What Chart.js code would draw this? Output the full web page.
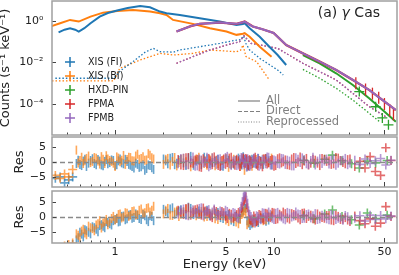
<!DOCTYPE html>
<html>
<head>
<meta charset="utf-8">
<script src="https://cdn.jsdelivr.net/npm/chart.js@4.4.1/dist/chart.umd.min.js"></script>
<style>
  body { margin: 0; background: #fff; }
  #wrap { position: relative; width: 399px; height: 275px; }
  #wrap canvas { position: absolute; left: 0; }
</style>
</head>
<body>
<div id="wrap">
  <canvas id="spec" width="399" height="136" style="top:0"></canvas>
  <canvas id="resAll" width="399" height="52" style="top:136px"></canvas>
  <canvas id="resDirect" width="399" height="85" style="top:190px"></canvas>
</div>
<script>
// ---- top panel: counts spectra (keV, counts s^-1 keV^-1) ----
const xisFiE = [0.44, 0.48, 0.52, 0.56, 0.59, 0.64, 0.70, 0.80, 0.90, 1.03, 1.2, 1.44, 1.66, 1.92, 2.11, 2.56, 3.42, 4.57, 5.83, 6.4, 6.57, 7.06, 8.17, 9.4, 10.6, 12.0];
const xisFiCounts = [0.282, 0.380, 0.447, 0.380, 0.309, 0.447, 0.776, 1.62, 2.40, 3.16, 4.17, 5.25, 4.57, 2.82, 2.34, 1.95, 1.35, 0.933, 0.646, 0.708, 0.776, 0.447, 0.174, 0.0575, 0.0229, 0.00759];
const xisBiE = [0.39, 0.45, 0.52, 0.59, 0.70, 0.84, 1.03, 1.3, 1.66, 1.92, 2.11, 2.32, 3.1, 3.96, 5.04, 5.83, 6.4, 6.57, 7.06, 8.17, 9.7];
const xisBiCounts = [0.537, 0.776, 1.12, 0.933, 1.62, 2.51, 3.02, 3.39, 2.82, 2.34, 1.95, 1.12, 0.724, 0.447, 0.309, 0.214, 0.240, 0.257, 0.174, 0.0575, 0.0191];
const fpmE = [2.44, 3.0, 3.42, 4.57, 5.83, 6.4, 6.57, 7.4, 8.5, 10.0, 12.0, 15.3, 19.5, 24.8, 31.6, 40.2, 48.7, 59];
const fpmCounts = [0.309, 0.562, 0.724, 0.832, 0.724, 0.871, 0.933, 0.537, 0.398, 0.263, 0.0692, 0.0275, 0.0110, 0.00437, 0.00145, 4.68e-4, 1.55e-4, 5.13e-5];
const pinE = [15.3, 19.5, 24.8, 31.6, 40.2, 48.7, 59];
const pinCounts = [0.0229, 0.00912, 0.00302, 8.32e-4, 1.86e-4, 5.13e-5, 1.41e-5];

// reprocessed components (dotted)
const xisFiReproE = [0.42, 0.98, 1.08, 1.30, 1.55, 1.74, 1.92, 2.33, 2.56, 3.42, 4.57, 5.83, 6.2, 6.45, 6.7, 7.06, 8.17, 10.6, 11.5];
const xisFiRepro = [0.00174, 0.00174, 0.00398, 0.0112, 0.0316, 0.0479, 0.0331, 0.0316, 0.0398, 0.0575, 0.0832, 0.120, 0.126, 0.191, 0.0794, 0.0398, 0.0158, 0.00437, 0.00251];
const xisBiReproE = [0.40, 0.98, 1.07, 1.44, 1.92, 2.33, 3.1, 3.96, 5.83, 6.2, 6.4, 6.7, 7.8, 9.4];
const xisBiRepro = [0.00129, 0.00129, 0.00525, 0.0132, 0.0275, 0.0229, 0.0275, 0.0398, 0.0331, 0.0398, 0.0692, 0.0191, 0.0110, 0.00145];
const fpmReproE = [2.44, 3.1, 3.96, 5.04, 6.1, 6.5, 7.2, 9.4, 10.6, 15.3, 24.8, 40.2, 51];
const fpmRepro = [0.00912, 0.0191, 0.0398, 0.0692, 0.100, 0.191, 0.0832, 0.0575, 0.0479, 0.00912, 0.00145, 7.41e-5, 2.45e-5];
const pinReproE = [15.3, 19.5, 24.8, 31.6, 40.2, 46.6];
const pinRepro = [0.00468, 0.00174, 5.75e-4, 1.55e-4, 3.55e-5, 1.41e-5];

// high-energy bins drawn with error bars
const fpmaBinE = [33, 38, 42, 46, 50, 54, 57];
const fpmaBin = [0.001, 5.01e-4, 3.16e-4, 2.0e-4, 1.0e-4, 5.01e-5, 3.16e-5];
const pinBinE = [34.7, 44, 48.5, 53];
const pinBin = [3.98e-4, 7.41e-5, 2.14e-5, 1.0e-5];

// ---- residuals (sigma) ----
const xisResE = [0.42,0.45,0.48,0.51,0.54,0.57,0.60,0.63,0.66,0.70,0.74,0.78,0.82,0.86,0.90,0.95,1.00,1.05,1.10,1.16,1.22,1.28,1.35,1.42,1.50,1.58,1.66,1.75,2.02,2.15,2.30,2.45,2.60,2.80,3.00,3.25,3.50,3.80,4.10,4.45,4.80,5.20,5.60,6.00,6.30,6.55,6.80,7.10,7.50,8.00,8.60,9.30];
const xisResE2 = [0.585,0.615,0.645,0.68,0.72,0.76,0.80,0.84,0.88,0.925,0.975,1.025,1.075,1.13,1.19,1.25,1.315,1.385,1.46,1.54,1.62,1.705,2.085,2.225,2.375,2.525,2.70,2.90,3.125,3.375,3.65,3.95,4.275,4.625,5.00,5.40,5.80,6.15,6.425,6.675,6.95,7.30,7.75,8.30,8.95,9.7];
const nuResE = [2.5,2.7,2.9,3.1,3.3,3.5,3.7,3.9,4.1,4.35,4.6,4.85,5.1,5.4,5.7,6.0,6.25,6.45,6.6,6.75,6.95,7.2,7.5,7.8,8.1,8.5,8.9,9.3,9.8,10.3,10.9,11.5,12.2,13.0,13.8,14.7,15.6,16.6,17.7,18.9,20.2,21.6,23.1,24.7,26.4,28.3,30.3,32.5,35.0,37.7,40.6,43.8,47.3,51.0,55.0];
const nuResE2 = [2.6,2.8,3.0,3.2,3.4,3.6,3.8,4.0,4.22,4.47,4.72,4.97,5.25,5.55,5.85,6.12,6.35,6.52,6.68,6.85,7.07,7.35,7.65,7.95,8.3,8.7,9.1,9.55,10.05,10.6,11.2,11.85,12.6,13.4,14.25,15.15,16.1,17.15,18.3,19.55,20.9,22.35,23.9,25.55,27.35,29.3];
const pinResE = [15.5, 18, 21, 23.5, 27, 31, 34.7, 39, 44, 52];

// middle panel
const fiResAll = [-5.5,-5.0,-7.0,-6.0,-5.0,-0.5,-0.8,0.3,-1.5,0.5,-0.5,0.8,-1.0,0.2,-0.6,0.7,-1.2,0.4,-0.3,0.9,-0.8,-1.5,-0.4,-1.8,-0.9,-2.2,-1.2,-2.5,1.0,-0.6,1.5,-0.4,0.8,-1.2,1.9,0.3,-0.9,1.1,-0.2,0.9,-1.4,0.6,-0.7,1.3,-1.0,0.8,-1.6,0.5,-0.3,1.2,-0.8,0.4];
const fiResAll2 = [0.6,-1.2,0.9,-0.4,1.1,-0.9,0.3,-1.3,0.8,-0.2,0.5,-0.9,1.0,-0.6,0.2,-1.1,-2.0,-0.8,-1.6,-2.8,-1.0,-1.9,0.4,1.3,-0.9,0.6,-0.3,1.4,-1.1,0.7,1.6,-0.5,0.3,-1.2,1.0,-0.8,0.4,-0.3,1.8,0.2,-1.2,0.9,-0.6,0.3,1.1,-1.0];
const biResAll = [-4.5,-5.5,-4.0,-5.0,-2.5,4.0,0.5,-0.5,1.2,-0.2,1.5,0.3,1.8,-0.5,1.0,0.2,-1.5,1.3,0.6,-0.8,1.6,0.4,2.0,0.9,1.8,0.7,2.3,1.0,-0.8,1.2,0.2,-1.3,0.9,0.1,-1.6,1.0,0.5,-1.1,1.4,-0.6,0.7,-1.8,0.9,-0.4,1.1,-2.8,0.3,-1.0,0.6,-0.5,1.0,-0.2];
const biResAll2 = [-0.3,1.6,0.4,2.0,0.2,1.3,-0.7,0.9,2.1,0.5,-0.4,1.7,0.1,2.2,0.8,1.5,0.3,2.6,1.2,0.6,2.8,1.4,0.9,-1.0,1.5,-0.2,1.2,-0.9,0.4,1.6,-0.5,0.8,-1.3,0.2,1.2,-0.7,0.5,-1.5,1.0,-0.3,0.6,-1.4,0.8,-0.6,0.2,1.3];
const fpmaResAll = [0.8,-1.2,1.5,-0.4,0.9,-1.8,0.3,1.2,-0.9,0.6,-1.5,1.0,-0.2,1.6,-1.1,0.4,-0.7,1.3,-0.5,0.9,-1.4,0.2,1.1,-0.8,0.5,-1.6,1.2,-0.3,0.8,-1.2,1.4,0.1,-0.9,1.0,-0.5,1.7,0.3,-1.0,0.9,-0.4,1.2,0.2,-0.8,1.5,0.5,-0.6,1.0,-1.5,0.2,-2.0,1.8,-3.2,-4.5,4.8,0.5];
const fpmaResAll2 = [-1.0,1.4,-0.3,0.7,-1.6,1.1,-0.6,0.4,1.7,-1.2,0.5,-0.8,1.3,-0.4,0.9,-1.5,0.6,-0.2,1.2,-1.0,0.8,-0.5,1.6,-1.3,0.2,1.0,-0.7,0.5,-1.4,1.1,-0.3,0.7,-1.1,1.5,0.0,-0.9,1.2,-0.4,0.6,-1.2,0.9,0.4,-0.6,1.3,-0.2,0.8];
const fpmbResAll = [-0.6,1.3,-0.9,1.7,-1.3,0.7,-0.2,-1.6,1.4,-0.8,1.1,-0.5,1.9,-1.2,0.6,-1.0,1.5,-0.3,1.0,-1.7,0.5,-0.9,1.3,0.2,-1.4,0.9,-0.6,1.6,-1.0,0.4,-0.7,1.1,0.6,-1.3,1.4,-0.2,0.8,-0.9,1.6,0.3,-0.5,1.0,0.7,-1.1,0.4,1.2,-0.3,0.6,-0.8,1.0,-0.5,0.4,1.2,-1.0,0.6];
const fpmbResAll2 = [1.2,-0.8,0.5,-1.4,1.0,-0.3,1.6,-1.1,-0.2,0.9,-1.3,1.5,-0.6,0.3,-1.2,0.8,1.4,-0.9,0.2,1.1,-1.5,0.6,-0.4,1.3,-0.9,0.4,1.7,-1.0,0.7,-0.5,1.2,-0.8,0.3,-1.3,0.9,1.4,-0.6,0.5,-1.0,1.1,0.3,-0.7,1.0,-0.4,0.6,-0.9];
const pinResAll = [0.6,-0.4,0.9,2.3,0.4,-0.6,-2.0,0.3,-0.3,0.5];

// bottom panel
const fiResDirect = [-12,-11,-12,-10,-9,-7.5,-5.0,-6.5,-4.5,-5.5,-3.5,-4.8,-2.5,-3.5,-1.8,-2.6,-0.8,-1.6,0.2,-0.9,0.6,-0.4,1.0,-0.5,0.8,-0.9,0.4,-1.2,2.5,1.2,3.0,1.6,2.4,0.8,2.8,1.5,1.0,2.2,0.6,1.5,-0.5,0.8,-1.5,-0.6,1.5,3.0,-1.2,-2.8,-0.9,-1.8,-0.2,-1.0];
const fiResDirect2 = [-6.8,-5.6,-4.2,-5.0,-3.2,-4.0,-2.8,-3.0,-1.5,-2.2,-1.2,-0.4,-1.4,0.3,-0.6,0.8,-0.2,0.5,-0.8,0.4,-1.5,0.2,1.8,2.6,0.9,2.0,1.4,3.2,0.8,2.0,1.7,0.4,1.2,-0.2,0.5,-1.0,0.3,-0.5,2.0,2.8,-2.0,-2.2,-1.5,-0.6,-1.4,0.2];
const biResDirect = [-11,-10,-9.5,-9,-8.5,-5.5,-6.8,-4.0,-5.8,-3.5,-4.5,-2.2,-3.6,-1.5,-2.5,-0.5,-1.0,0.8,-0.3,1.4,0.2,1.8,0.6,2.2,1.2,2.8,1.6,3.5,1.0,2.8,0.5,2.0,0.9,2.5,1.2,0.4,1.8,0.2,1.0,-0.8,0.4,-1.5,-0.6,-2.2,0.8,2.0,-2.5,-1.2,-2.0,-0.4,-1.2,0.3];
const biResDirect2 = [-6.0,-4.6,-5.2,-3.0,-3.8,-2.6,-1.2,-2.0,-0.8,-1.4,0.2,-0.5,1.0,0.0,1.2,0.6,2.0,0.8,2.6,1.4,3.0,2.2,2.2,0.6,1.6,0.2,1.8,0.6,2.0,0.9,0.0,1.2,-0.6,0.6,-1.0,-0.4,-1.6,-0.8,1.2,1.5,-1.8,-0.8,-1.6,-0.2,-1.0,0.5];
const fpmaResDirect = [2.2,0.8,3.0,1.5,2.6,0.6,2.0,1.2,-0.2,1.8,0.5,1.4,-0.5,0.9,0.2,1.5,2.8,5.0,6.0,4.0,1.0,-1.2,0.3,-1.5,0.8,-0.6,1.2,0.0,1.5,-0.8,0.9,1.6,-0.3,1.1,0.4,-0.9,1.3,0.2,-0.6,1.0,-0.2,0.5,-1.0,0.6,-0.8,-0.2,-1.5,0.3,-1.2,-2.2,-0.6,-3.0,-2.0,3.4,0.2];
const fpmaResDirect2 = [1.4,2.8,0.6,2.4,1.0,2.9,1.6,0.3,2.2,0.9,1.8,0.2,1.2,-0.3,0.8,1.0,3.2,5.5,6.5,3.0,-0.8,-1.8,-0.4,-1.2,0.6,-0.9,1.0,-0.2,1.3,-0.6,0.4,1.1,-0.7,0.8,-0.3,1.2,-0.5,0.6,-1.0,0.3,-0.4,0.5,-1.2,0.2,-0.7,-1.0];
const fpmbResDirect = [1.0,2.6,0.4,2.4,1.0,3.0,0.8,2.4,1.6,0.3,2.0,0.6,1.8,0.0,1.2,-0.4,3.5,6.5,7.8,5.5,2.0,0.2,-1.5,0.4,-0.6,1.4,0.2,1.6,-0.4,1.2,0.3,-0.6,1.5,0.0,1.6,0.8,-0.4,1.0,0.4,-0.8,0.6,-0.6,0.9,-0.8,-0.2,0.5,-1.0,-0.4,0.4,-1.3,0.6,-0.8,0.5,-0.6,0.3];
const fpmbResDirect2 = [2.2,0.6,1.8,1.2,2.8,0.4,2.0,1.0,2.6,0.5,1.4,2.2,0.5,1.5,-0.2,1.8,5.0,7.0,8.2,4.5,0.8,-0.6,-2.0,0.2,-0.9,1.2,-0.2,0.9,-0.8,1.5,0.0,-0.9,1.2,0.3,1.0,-0.5,0.8,-0.3,1.1,-0.6,0.2,-0.9,0.6,-0.4,-1.1,0.1];
const pinResDirect = [0.4,-0.6,1.0,2.3,0.2,-0.9,-2.6,1.3,-0.5,0.6];

// axis / legend text
const xTickLabels = [1, 5, 10, 50];
const xTickMarks = [0.5,0.6,0.7,0.8,0.9,1,2,3,4,5,6,7,8,9,10,20,30,40,50];
const fluxTicks = [1e-4, 1e-2, 1];
const fluxTickText = ['10\u207B\u2074', '10\u207B\u00B2', '10\u2070'];
const resTicks = [-5, 0, 5];
const instLabels = ['XIS (FI)', 'XIS (BI)', 'HXD-PIN', 'FPMA', 'FPMB'];
const compLabels = ['All', 'Direct', 'Reprocessed'];

const COL = { fi: '#1f77b4', bi: '#ff7f0e', pin: '#2ca02c', fpma: '#d62728', fpmb: '#9467bd' };
const instColors = [COL.fi, COL.bi, COL.pin, COL.fpma, COL.fpmb];
const FONT = "'DejaVu Sans', sans-serif";

Chart.defaults.font.family = FONT;
Chart.defaults.color = '#222';

function rgba(hex, a) {
  const n = parseInt(hex.slice(1), 16);
  return `rgba(${n >> 16},${(n >> 8) & 255},${n & 255},${a})`;
}
function pts(xs, ys) {
  return xs.map((x, i) => ({ x: x, y: ys[i] }));
}
// keep every panel's plot box exactly where the layout puts it
function noPad(s) {
  s.paddingTop = 0; s.paddingBottom = 0; s.paddingLeft = 0; s.paddingRight = 0;
}

// frame, inward ticks and the zero line
const panelFrame = {
  id: 'panelFrame',
  afterDatasetsDraw(chart, args, opts) {
    const { ctx, chartArea: a, scales } = chart;
    ctx.save();
    if (opts.zeroLine) {
      const y0 = Math.round(scales.y.getPixelForValue(0)) + 0.5;
      ctx.strokeStyle = '#8a8a8a';
      ctx.lineWidth = 1.5;
      ctx.setLineDash([5, 3]);
      ctx.beginPath(); ctx.moveTo(a.left, y0); ctx.lineTo(a.right, y0); ctx.stroke();
      ctx.setLineDash([]);
    }
    ctx.strokeStyle = '#444';
    ctx.lineWidth = 1;
    xTickMarks.forEach(v => {
      const px = Math.round(scales.x.getPixelForValue(v)) + 0.5;
      const len = xTickLabels.includes(v) ? 5 : 2.5;
      ctx.beginPath(); ctx.moveTo(px, a.bottom); ctx.lineTo(px, a.bottom - len); ctx.stroke();
    });
    scales.y.ticks.forEach(t => {
      const py = Math.round(scales.y.getPixelForValue(t.value)) + 0.5;
      ctx.beginPath(); ctx.moveTo(a.left, py); ctx.lineTo(a.left + 4, py); ctx.stroke();
    });
    ctx.strokeStyle = '#a0a0a0';
    ctx.lineWidth = 1.5;
    ctx.strokeRect(a.left, a.top, a.right - a.left, a.bottom - a.top);
    ctx.restore();
  }
};

// the two legends and the panel label of the spectrum
const specLegend = {
  id: 'specLegend',
  afterDraw(chart) {
    const { ctx, chartArea: a } = chart;
    ctx.save();
    ctx.textBaseline = 'middle';
    ctx.font = '9.6px ' + FONT;
    instLabels.forEach((lab, i) => {
      const cx = a.left + 18, cy = a.top + 61 + i * 14;
      ctx.strokeStyle = instColors[i];
      ctx.lineWidth = 1.5;
      ctx.beginPath();
      ctx.moveTo(cx - 5, cy); ctx.lineTo(cx + 5, cy);
      ctx.moveTo(cx, cy - 5); ctx.lineTo(cx, cy + 5);
      ctx.stroke();
      ctx.fillStyle = '#222';
      ctx.fillText(lab, a.left + 36, cy);
    });
    const dashes = [[], [4, 2], [1, 1.6]];
    ctx.font = '11.5px ' + FONT;
    compLabels.forEach((lab, i) => {
      const cy = a.top + 100 + i * 10.5;
      ctx.strokeStyle = '#808080';
      ctx.lineWidth = 1.2;
      ctx.setLineDash(dashes[i]);
      ctx.beginPath(); ctx.moveTo(a.right - 159, cy); ctx.lineTo(a.right - 137, cy); ctx.stroke();
      ctx.setLineDash([]);
      ctx.fillStyle = '#808080';
      ctx.fillText(lab, a.right - 131, cy);
    });
    // "(a) γ Cas" with an italic gamma
    const parts = [['(a) ', ''], ['\u03B3', 'italic '], [' Cas', '']];
    let w = 0;
    parts.forEach(p => { ctx.font = p[1] + '14px ' + FONT; w += ctx.measureText(p[0]).width; });
    let x = a.right - 17 - w;
    ctx.fillStyle = '#222';
    parts.forEach(p => {
      ctx.font = p[1] + '14px ' + FONT;
      ctx.fillText(p[0], x, a.top + 12);
      x += ctx.measureText(p[0]).width;
    });
    ctx.restore();
  }
};

function xAxis(show) {
  return {
    type: 'logarithmic', min: 0.4, max: 60, display: show,
    grid: { display: false, drawTicks: false }, border: { display: false },
    afterBuildTicks: s => { s.ticks = xTickLabels.map(v => ({ value: v })); },
    ticks: { font: { size: 11 }, color: '#222', padding: 3, maxRotation: 0, autoSkip: false, callback: v => String(v) },
    title: { display: show, text: 'Energy (keV)', font: { size: 13, lineHeight: 1.2 }, color: '#222', padding: { top: 0, bottom: 3 } },
    afterFit: s => { s.height = show ? 32 : 0; noPad(s); }
  };
}
function resAxis(lim) {
  return {
    type: 'linear', min: -lim, max: lim,
    grid: { display: false, drawTicks: false }, border: { display: false },
    afterBuildTicks: s => { s.ticks = resTicks.map(v => ({ value: v })); },
    ticks: { font: { size: 11 }, color: '#222', padding: 6, callback: v => v < 0 ? '\u2212' + Math.abs(v) : String(v) },
    title: { display: true, text: 'Res', font: { size: 13, lineHeight: 0.8 }, color: '#222', padding: { top: 14, bottom: 0 } },
    afterFit: s => { s.width = 52; noPad(s); }
  };
}

function lineSet(xs, ys, color, width, dash, order) {
  return { data: pts(xs, ys), showLine: true, borderColor: color, borderWidth: width, borderDash: dash, pointRadius: 0, order: order };
}
function barSet(xs, ys, color, style, radius, order) {
  return { data: pts(xs, ys), borderColor: color, backgroundColor: color, pointStyle: style, pointRotation: 90, pointRadius: radius, pointBorderWidth: 1.3, order: order };
}
function resSet(xs, ys, color, order, allCross) {
  const c = rgba(color, 0.68);
  return {
    data: pts(xs, ys), borderColor: c, backgroundColor: c,
    pointStyle: ctx => (allCross || (ctx.raw && (ctx.raw.x < 0.56 || ctx.raw.x > 34))) ? 'cross' : 'line',
    pointRotation: 90, pointRadius: 4.5, pointBorderWidth: 1.6, order: order
  };
}

const dot = [1.5, 2];
new Chart(document.getElementById('spec'), {
  type: 'scatter',
  data: { datasets: [
    lineSet(fpmE, fpmCounts, COL.fpmb, 2, [], 0),
    lineSet(fpmE, fpmCounts, COL.fpma, 2.3, [], 1),
    barSet(fpmaBinE, fpmaBin, COL.fpma, 'line', 6, 1),
    lineSet(xisFiE, xisFiCounts, COL.fi, 2, [], 2),
    lineSet(xisBiE, xisBiCounts, COL.bi, 2, [], 3),
    lineSet(pinE, pinCounts, COL.pin, 2, [], 4),
    barSet(pinBinE, pinBin, COL.pin, 'cross', 5, 4),
    lineSet(fpmReproE, fpmRepro, COL.fpmb, 1.3, dot, 5),
    lineSet(fpmReproE, fpmRepro, COL.fpma, 1.3, dot, 6),
    lineSet(xisFiReproE, xisFiRepro, COL.fi, 1.3, dot, 7),
    lineSet(xisBiReproE, xisBiRepro, COL.bi, 1.3, dot, 8),
    lineSet(pinReproE, pinRepro, COL.pin, 1.3, dot, 9)
  ] },
  options: {
    responsive: false, animation: false, events: [],
    layout: { autoPadding: false, padding: { top: 1, bottom: 1, left: 0, right: 2 } },
    plugins: { legend: { display: false }, tooltip: { enabled: false }, panelFrame: {} },
    scales: {
      x: xAxis(false),
      y: {
        type: 'logarithmic', min: Math.pow(10, -5.49), max: Math.pow(10, 0.96),
        grid: { display: false, drawTicks: false }, border: { display: false },
        afterBuildTicks: s => { s.ticks = fluxTicks.map(v => ({ value: v })); },
        ticks: { font: { size: 11 }, color: '#222', padding: 8.5, callback: v => fluxTickText[fluxTicks.indexOf(v)] },
        title: { display: true, text: 'Counts (s\u207B\u00B9 keV\u207B\u00B9)', font: { size: 13, lineHeight: 0.8 }, color: '#222', padding: { top: 0, bottom: 0 } },
        afterFit: s => { s.width = 52; noPad(s); }
      }
    }
  },
  plugins: [panelFrame, specLegend]
});

function resChart(id, lim, r, showX) {
  return new Chart(document.getElementById(id), {
    type: 'scatter',
    data: { datasets: [
      resSet(nuResE.concat(nuResE2), r.fpmb, COL.fpmb, 0),
      resSet(nuResE.concat(nuResE2), r.fpma, COL.fpma, 1),
      resSet(pinResE, r.pin, COL.pin, 2, true),
      resSet(xisResE.concat(xisResE2), r.bi, COL.bi, 3),
      resSet(xisResE.concat(xisResE2), r.fi, COL.fi, 4)
    ] },
    options: {
      responsive: false, animation: false, events: [],
      layout: { autoPadding: false, padding: { top: 1, bottom: showX ? 0 : 1, left: 0, right: 2 } },
      plugins: { legend: { display: false }, tooltip: { enabled: false }, panelFrame: { zeroLine: true } },
      scales: { x: xAxis(showX), y: resAxis(lim) }
    },
    plugins: [panelFrame]
  });
}

resChart('resAll', 8.4, {
  fi: fiResAll.concat(fiResAll2), bi: biResAll.concat(biResAll2),
  fpma: fpmaResAll.concat(fpmaResAll2), fpmb: fpmbResAll.concat(fpmbResAll2), pin: pinResAll
}, false);
resChart('resDirect', 8.5, {
  fi: fiResDirect.concat(fiResDirect2), bi: biResDirect.concat(biResDirect2),
  fpma: fpmaResDirect.concat(fpmaResDirect2), fpmb: fpmbResDirect.concat(fpmbResDirect2), pin: pinResDirect
}, true);
</script>
</body>
</html>
